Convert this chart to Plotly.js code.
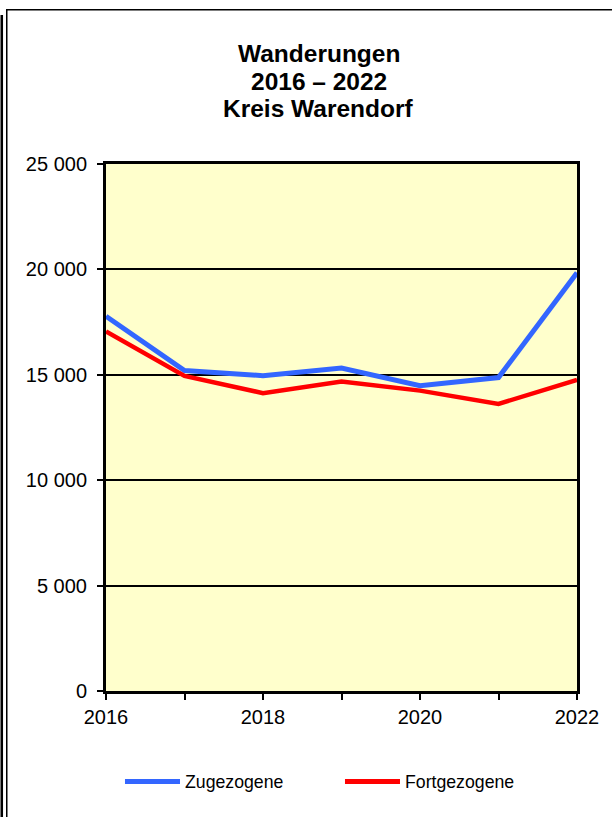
<!DOCTYPE html>
<html>
<head>
<meta charset="utf-8">
<script src="https://cdn.plot.ly/plotly-3.0.1.min.js"></script>
<style>
html,body{margin:0;padding:0;background:#fff;}
#chart{width:612px;height:817px;}
</style>
</head>
<body>
<div id="chart"></div>
<script>
const years = [2016, 2017, 2018, 2019, 2020, 2021, 2022];
const yearLabels = ["2016", "", "2018", "", "2020", "", "2022"];
const zugezogene = [17780, 15200, 14960, 15320, 14480, 14870, 19840];
const fortgezogene = [17060, 14950, 14130, 14680, 14250, 13620, 14760];
const yTickValues = [0, 5000, 10000, 15000, 20000, 25000];
const yTickLabels = ["0", "5 000", "10 000", "15 000", "20 000", "25 000"];
const titleLines = ["Wanderungen", "2016 – 2022", "Kreis Warendorf"];
const seriesNames = ["Zugezogene", "Fortgezogene"];
const seriesColors = ["#3366FF", "#FF0000"];

const FONT = "Liberation Sans, Arial, Helvetica, sans-serif";

const traces = [
  {x: years, y: zugezogene, name: seriesNames[0], type: "scatter", mode: "lines",
   line: {color: seriesColors[0], width: 5}, showlegend: false},
  {x: years, y: fortgezogene, name: seriesNames[1], type: "scatter", mode: "lines",
   line: {color: seriesColors[1], width: 4.5}, showlegend: false}
];

const titleY = [1.2102, 1.1565, 1.1047];
const annotations = titleLines.map((t, i) => ({
  text: "<b>" + t + "</b>", xref: "paper", yref: "paper", x: 0.4522, y: titleY[i],
  xanchor: "center", yanchor: "middle", showarrow: false, borderpad: 0,
  font: {family: FONT, size: 24.5, color: "#000"}
}));
const legTextX = [0.1656, 0.6327];
const legLineX = [[0.0403, 0.1571], [0.5074, 0.6242]];
const legY = -0.1719;
seriesNames.forEach((n, i) => {
  annotations.push({text: n, xref: "paper", yref: "paper", x: legTextX[i], y: legY,
    xanchor: "left", yanchor: "middle", showarrow: false, borderpad: 0,
    font: {family: FONT, size: 17.7, color: "#000"}});
});

const shapes = [];
seriesNames.forEach((n, i) => {
  shapes.push({type: "line", xref: "paper", yref: "paper", x0: legLineX[i][0], x1: legLineX[i][1],
    y0: legY, y1: legY, line: {color: seriesColors[i], width: 5}});
});
// outer frame
shapes.push({type: "rect", xref: "paper", yref: "paper", x0: -0.2240, x1: -0.2186, y0: -0.26, y1: 1.2827,
  fillcolor: "#000", line: {width: 0}, layer: "above"});
shapes.push({type: "rect", xref: "paper", yref: "paper", x0: -0.2123, x1: -0.2091, y0: -0.26, y1: 1.2941,
  fillcolor: "#000", line: {width: 0}, layer: "above"});
shapes.push({type: "rect", xref: "paper", yref: "paper", x0: -0.2123, x1: 1.1, y0: 1.2913, y1: 1.2941,
  fillcolor: "#000", line: {width: 0}, layer: "above"});

const layout = {
  width: 612, height: 817,
  margin: {l: 106, r: 35, t: 164, b: 126, pad: 0},
  paper_bgcolor: "#FFFFFF",
  plot_bgcolor: "#FFFFCC",
  showlegend: false,
  font: {family: FONT, size: 20, color: "#000"},
  xaxis: {
    range: [2016, 2022], tickvals: years, ticktext: yearLabels,
    showgrid: false, zeroline: false,
    showline: true, linecolor: "#000", linewidth: 3, mirror: true,
    ticks: "outside", ticklen: 6, tickwidth: 2, tickcolor: "#000",
    tickfont: {family: FONT, size: 20, color: "#000"}
  },
  yaxis: {
    range: [0, 25000], tickvals: yTickValues, ticktext: yTickLabels,
    showgrid: true, gridcolor: "#000", gridwidth: 2, zeroline: false,
    showline: true, linecolor: "#000", linewidth: 3, mirror: true,
    ticks: "outside", ticklen: 6, tickwidth: 2, tickcolor: "#000",
    ticklabelstandoff: 6,
    tickfont: {family: FONT, size: 20, color: "#000"}
  },
  annotations: annotations,
  shapes: shapes
};

Plotly.newPlot("chart", traces, layout, {staticPlot: true, displayModeBar: false});
</script>
</body>
</html>
